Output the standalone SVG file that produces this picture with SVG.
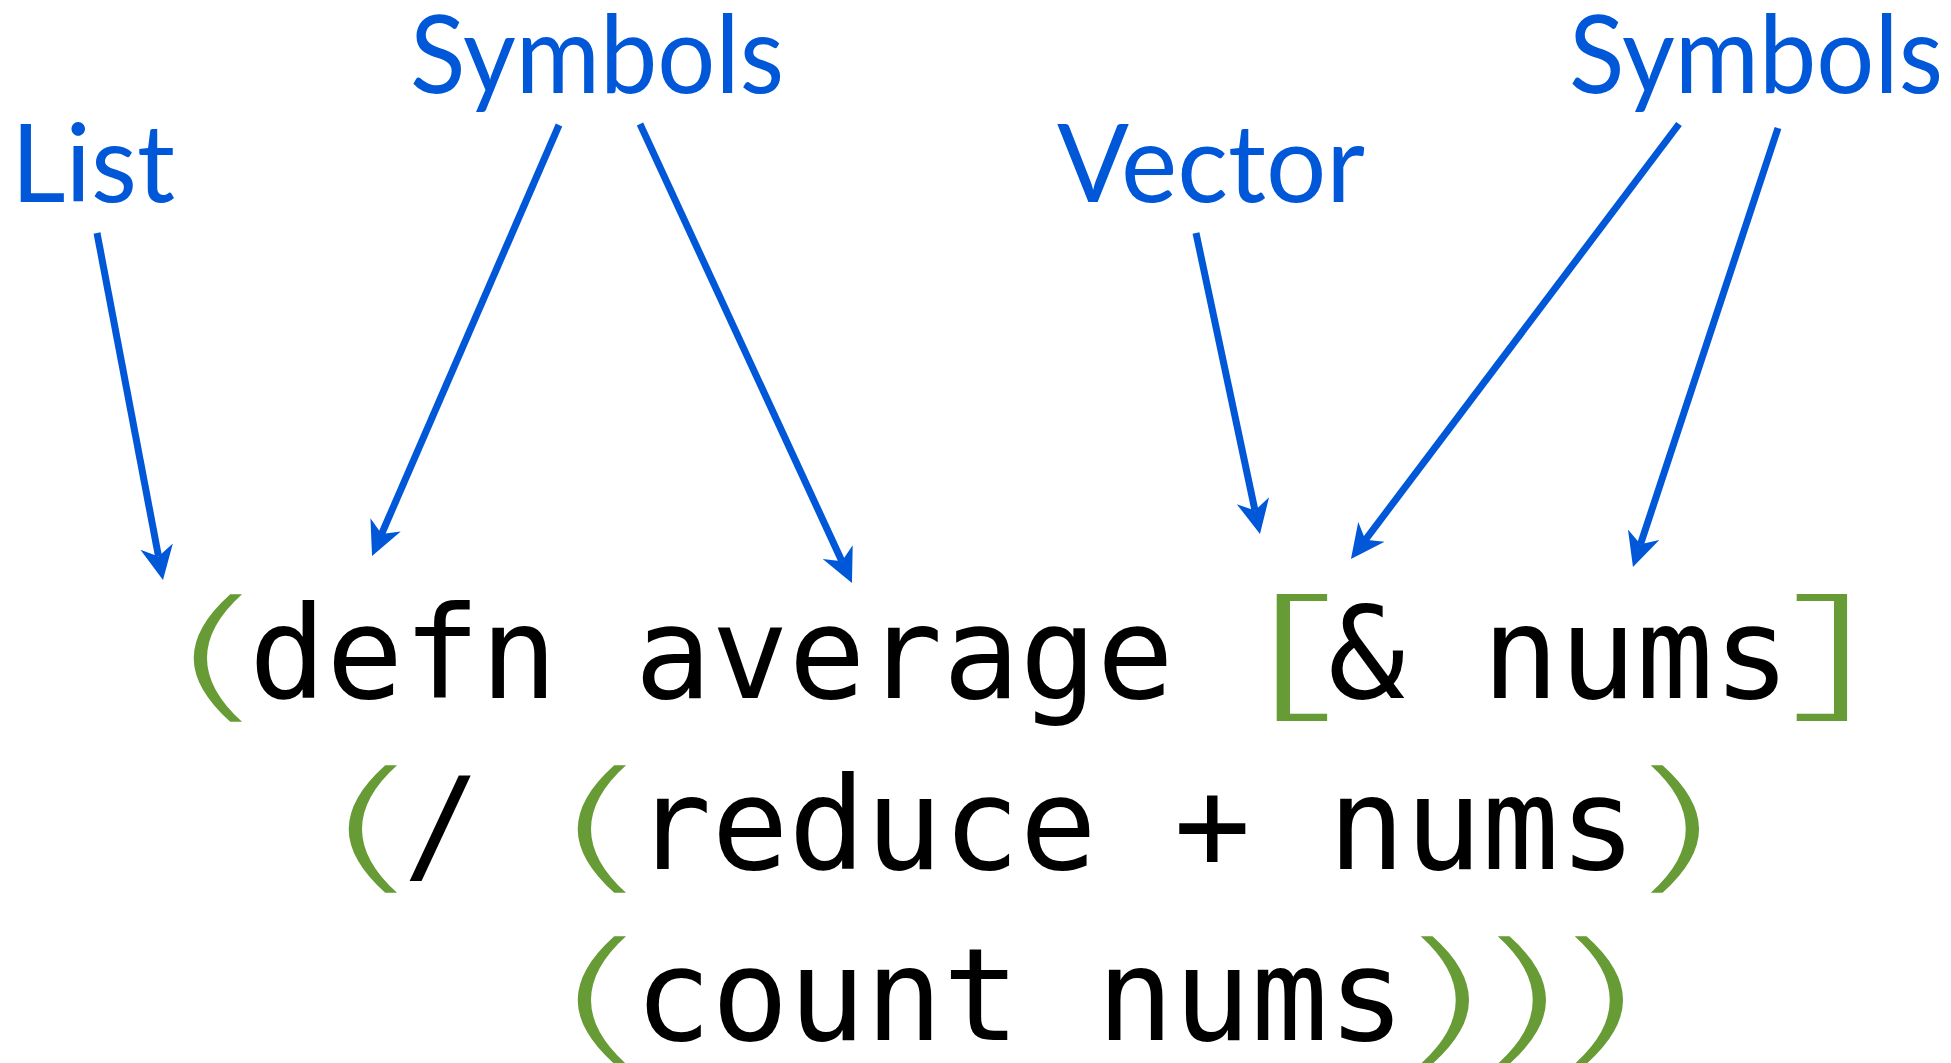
<svg xmlns="http://www.w3.org/2000/svg" width="1951" height="1063" viewBox="0 0 1951 1063">
<style>
.lbl{font-family:Lato,"Open Sans","Liberation Sans",sans-serif;font-size:108px;fill:#0057D8}
.code{font-family:"DejaVu Sans Mono","Liberation Mono",monospace;font-size:128px;fill:#000}
.p{font-family:"DejaVu Sans","Noto Sans",sans-serif;font-weight:200;font-size:143px;fill:#669B36;text-anchor:middle}
.b{font-family:"Noto Sans","DejaVu Sans",sans-serif;font-weight:300;font-size:145px;fill:#669B36;text-anchor:middle}
.arrow{fill:none;stroke:#0057D8;stroke-width:7}
</style>
<defs>
<marker id="ah" markerUnits="userSpaceOnUse" viewBox="0 -20 40 40" markerWidth="40" markerHeight="40" refX="10" refY="0" orient="auto">
<path d="M0,-16.5 L34,0 L0,16.5 L10,0 Z" fill="#0057D8"/>
</marker>
</defs>
<rect width="1951" height="1063" fill="#fff"/>
<g id="label-list"><text class="lbl" x="11" y="202" textLength="164" lengthAdjust="spacingAndGlyphs">List</text></g>
<g id="label-symbols-1"><text class="lbl" x="410" y="93" textLength="374" lengthAdjust="spacingAndGlyphs">Symbols</text></g>
<g id="label-vector"><text class="lbl" x="1057" y="202" textLength="308" lengthAdjust="spacingAndGlyphs">Vector</text></g>
<g id="label-symbols-2"><text class="lbl" x="1569" y="93" textLength="374" lengthAdjust="spacingAndGlyphs">Symbols</text></g>
<g id="code">
<text class="code" x="172" y="698" xml:space="preserve"> defn average  &amp; nums</text>
<text class="code" x="172" y="869" xml:space="preserve">   /  reduce + nums</text>
<text class="code" x="172" y="1040" xml:space="preserve">      count nums</text>
<text class="p" transform="translate(217,703) scale(1.9,1)">(</text>
<text class="b" transform="translate(1295,698) scale(1.64,1)">[</text>
<text class="b" transform="translate(1829,698) scale(1.64,1)">]</text>
<text class="p" transform="translate(372,874) scale(1.9,1)">(</text>
<text class="p" transform="translate(601,874) scale(1.9,1)">(</text>
<text class="p" transform="translate(1674,874) scale(1.9,1)">)</text>
<text class="p" transform="translate(601,1045) scale(1.9,1)">(</text>
<text class="p" transform="translate(1444,1045) scale(1.9,1)">)</text>
<text class="p" transform="translate(1521,1045) scale(1.9,1)">)</text>
<text class="p" transform="translate(1598,1045) scale(1.9,1)">)</text>
</g>
<g id="connectors">
<path class="arrow" marker-end="url(#ah)" d="M97,233 L158.5,556.4"/>
<path class="arrow" marker-end="url(#ah)" d="M559,125 L381.6,534"/>
<path class="arrow" marker-end="url(#ah)" d="M640,124 L841.9,561.2"/>
<path class="arrow" marker-end="url(#ah)" d="M1196,233 L1255,510.5"/>
<path class="arrow" marker-end="url(#ah)" d="M1679,124 L1365.4,539.8"/>
<path class="arrow" marker-end="url(#ah)" d="M1778,128 L1640.5,544.2"/>
</g>
</svg>
